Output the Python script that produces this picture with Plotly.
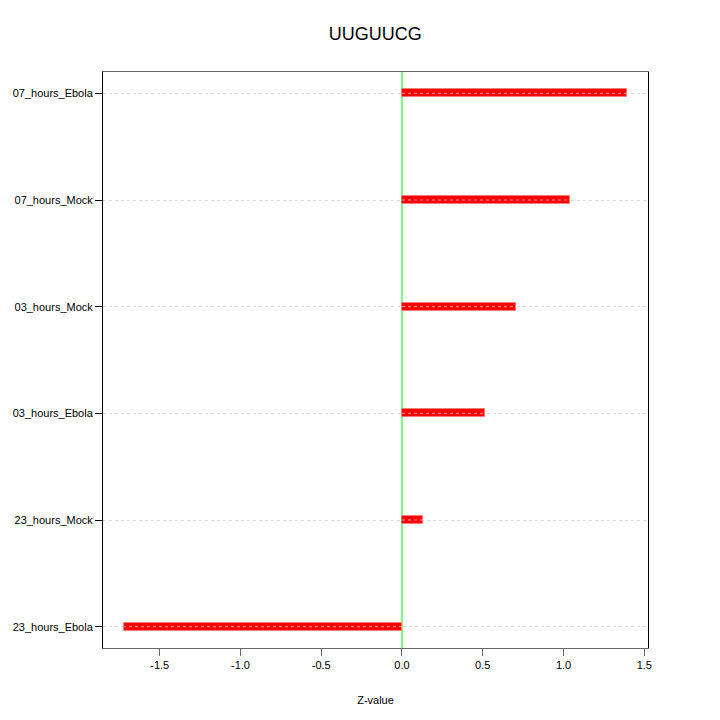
import plotly.graph_objects as go

samples = ["23_hours_Ebola", "23_hours_Mock", "03_hours_Ebola", "03_hours_Mock", "07_hours_Mock", "07_hours_Ebola"]
zvalues = [-1.72, 0.13, 0.514, 0.706, 1.04, 1.393]
xticks = [-1.5, -1.0, -0.5, 0.0, 0.5, 1.0, 1.5]
title_text = "UUGUUCG"
x_title = "Z-value"

fig = go.Figure()
fig.add_trace(go.Bar(
    y=samples, x=zvalues, orientation="h", width=0.075,
    marker=dict(color="#ff0000", line=dict(color="rgba(255,120,120,0.7)", width=1)),
    showlegend=False, hoverinfo="x+y",
))
# faint dotted grid line seen across bars
for s, v in zip(samples, zvalues):
    fig.add_trace(go.Scatter(
        x=[0, v], y=[s, s], mode="lines",
        line=dict(color="rgba(255,170,170,0.9)", width=1, dash="dot"),
        showlegend=False, hoverinfo="skip",
    ))

fig.add_shape(type="line", xref="x", yref="paper", x0=0, x1=0, y0=0, y1=1,
              line=dict(color="#00ff00", width=1), layer="below")

fig.update_layout(
    width=720, height=720,
    margin=dict(l=95, r=80, t=64, b=80, autoexpand=False),
    paper_bgcolor="white", plot_bgcolor="white",
    font=dict(family="Liberation Sans, Arial, sans-serif", size=11, color="black"),
    title=dict(text=title_text, x=0.51, xanchor="center", y=0.964, yanchor="middle",
               font=dict(size=18, color="black")),
    bargap=0,
)
fig.update_xaxes(
    range=[-1.851, 1.523], tickvals=xticks, ticktext=[f"{t:.1f}" for t in xticks],
    showgrid=False, zeroline=False, showline=True, linecolor="#666", linewidth=1, mirror=True,
    ticks="outside", ticklen=7, tickcolor="#666", automargin=False,
    title=dict(text=x_title, font=dict(size=11), standoff=26),
)
fig.update_yaxes(
    type="category", categoryorder="array", categoryarray=samples,
    range=[-0.2, 5.2], automargin=False,
    showgrid=True, gridcolor="#dddddd", griddash="dot", gridwidth=1,
    zeroline=False, showline=True, linecolor="black", linewidth=1, mirror=True,
    ticks="outside", ticklen=7, tickcolor="black",
)
fig.write_html("out.html")
